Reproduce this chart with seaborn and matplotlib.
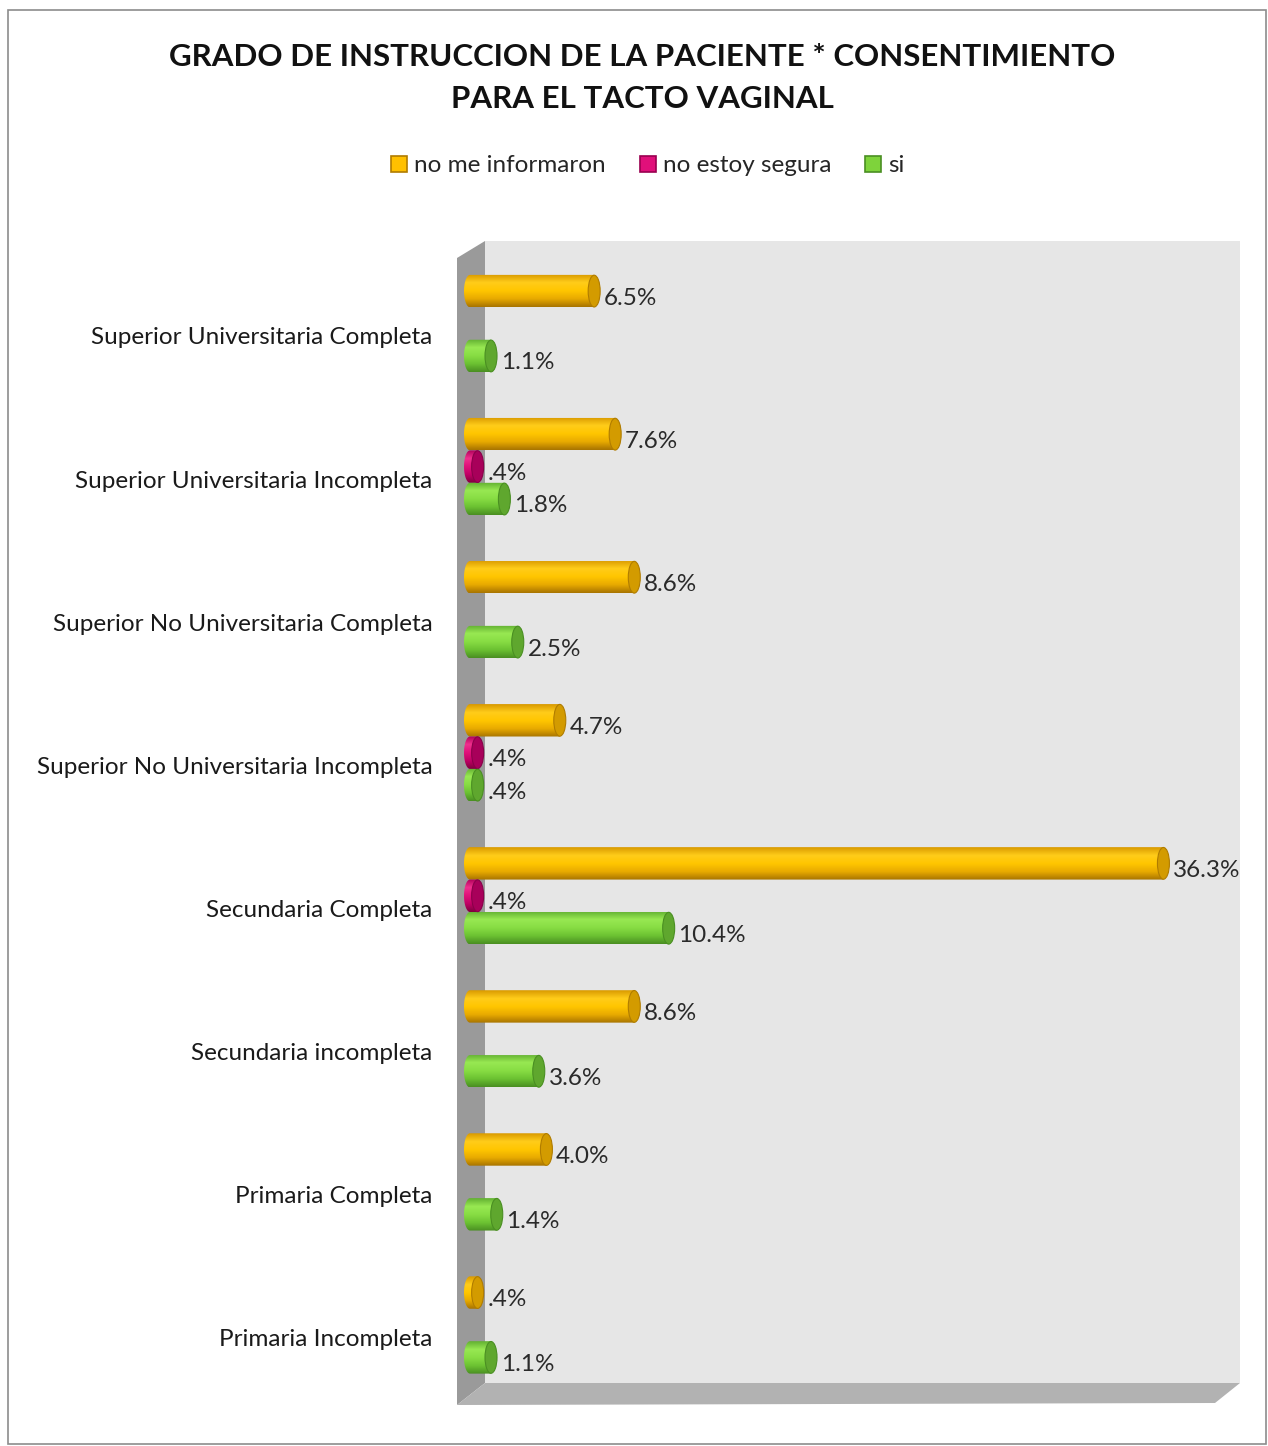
import numpy as np
import pandas as pd
import matplotlib
matplotlib.use("Agg")
import matplotlib.pyplot as plt
import seaborn as sns
from matplotlib.patches import Polygon, Rectangle, Ellipse, Patch
from matplotlib.colors import to_rgba

# ---------------- data ----------------
categorias = [
    "Superior Universitaria Completa",
    "Superior Universitaria Incompleta",
    "Superior No Universitaria Completa",
    "Superior No Universitaria Incompleta",
    "Secundaria Completa",
    "Secundaria incompleta",
    "Primaria Completa",
    "Primaria Incompleta",
]
series = ["no me informaron", "no estoy segura", "si"]
no_me_informaron = [6.5, 7.6, 8.6, 4.7, 36.3, 8.6, 4.0, 0.4]
no_estoy_segura = [None, 0.4, None, 0.4, 0.4, None, None, None]
si = [1.1, 1.8, 2.5, 0.4, 10.4, 3.6, 1.4, 1.1]
titulo = "GRADO DE INSTRUCCION DE LA PACIENTE * CONSENTIMIENTO\nPARA EL TACTO VAGINAL"

rows = []
for s, vals in zip(series, [no_me_informaron, no_estoy_segura, si]):
    for c, v in zip(categorias, vals):
        if v is not None:
            rows.append({"Nivel": c, "Respuesta": s, "Porcentaje": v})
df = pd.DataFrame(rows)

# ---------------- styles ----------------
base_colors = {"no me informaron": "#FFC000", "no estoy segura": "#E0107A", "si": "#7ED33B"}
grad_colors = {
    "no me informaron": ["#D99A00", "#FFCC1A", "#FFC600", "#E8AA00", "#A87400"],
    "no estoy segura": ["#B0005A", "#F0308E", "#E0107A", "#C00065", "#80003F"],
    "si": ["#62B032", "#98E852", "#88DD44", "#6CC232", "#4A8F22"],
}
cap_colors = {"no me informaron": ("#D39B00", "#B07C00"),
              "no estoy segura": ("#A8005A", "#8A004A"),
              "si": ("#5FA72E", "#4A8F22")}
legend_edges = {"no me informaron": "#B07C00", "no estoy segura": "#9A0050", "si": "#4A8F22"}

W, H = 1268, 1446
def fx(px):
    return px / W
def fy(py):
    return 1 - py / H

sns.set_theme(style="white")
plt.rcParams["font.family"] = ["Lato", "DejaVu Sans"]

fig = plt.figure(figsize=(W / 100, H / 100), dpi=100)
fig.patch.set_facecolor("white")

# figure border
fig.patches.append(Rectangle((fx(8), fy(1444)), fx(1266) - fx(8), fy(10) - fy(1444),
                             transform=fig.transFigure, fill=False, edgecolor="#8C8C8C",
                             linewidth=1.2, zorder=-5))
# back wall
fig.patches.append(Polygon([(fx(485), fy(241)), (fx(1240), fy(241)), (fx(1240), fy(1383)), (fx(485), fy(1383))],
                           closed=True, transform=fig.transFigure, facecolor="#E6E6E6",
                           edgecolor="none", zorder=-4))
# left wall
fig.patches.append(Polygon([(fx(457), fy(258)), (fx(485), fy(241)), (fx(485), fy(1383)), (fx(457), fy(1405))],
                           closed=True, transform=fig.transFigure, facecolor="#9A9A9A",
                           edgecolor="none", zorder=-4))
# floor
fig.patches.append(Polygon([(fx(457), fy(1405)), (fx(485), fy(1383)), (fx(1240), fy(1383)), (fx(1215), fy(1403))],
                           closed=True, transform=fig.transFigure, facecolor="#B2B2B2",
                           edgecolor="none", zorder=-4))

top_px, bot_px = 252, 1396.5
left_px, zero_px, right_px = 462, 470, 1215
XMAX = 39
px_per_unit = (right_px - zero_px) / XMAX
XMIN = -(zero_px - left_px) / px_per_unit

ax = fig.add_axes([fx(left_px), fy(bot_px), (right_px - left_px) / W, (bot_px - top_px) / H])
ax.patch.set_visible(False)

sns.barplot(data=df, y="Nivel", x="Porcentaje", hue="Respuesta", order=categorias,
            hue_order=series, orient="h", width=0.68, palette=base_colors,
            errorbar=None, linewidth=0, dodge=True, ax=ax, legend=False)

ax.set_xlim(XMIN, XMAX)
ax.set_ylim(7.5, -0.5)

cap_w = 12 / px_per_unit
a = cap_w / 2

def fmt(v):
    s = f"{v:.1f}"
    if s.startswith("0"):
        s = s[1:]
    return s + "%"

theta = np.linspace(np.pi / 2, -np.pi / 2, 40)

for cont, s in zip(ax.containers, series):
    cols = [to_rgba(c) for c in grad_colors[s]]
    stops = np.linspace(0, 1, len(cols))
    t = np.linspace(0, 1, 64)
    grad = np.zeros((64, 1, 4))
    for k in range(4):
        grad[:, 0, k] = np.interp(t, stops, [c[k] for c in cols])
    for p in cont.patches:
        w = p.get_width()
        if not np.isfinite(w) or w <= 0:
            continue
        x0, y0, h = p.get_x(), p.get_y(), p.get_height()
        p.set_visible(False)
        yc = y0 + h / 2
        b = h / 2
        # body outline: rectangle with a rounded (half-ellipse) left end
        left_arc = [(x0 - a * np.cos(th), yc + b * np.sin(th)) for th in theta]
        body = Polygon([(x0 + w, y0), (x0 + w, y0 + h)] + left_arc, closed=True,
                       transform=ax.transData, facecolor="none", edgecolor="none")
        ax.add_patch(body)
        im = ax.imshow(grad, extent=(x0 - a, x0 + w, y0 + h, y0), origin="upper",
                       aspect="auto", interpolation="bilinear", zorder=3)
        im.set_clip_path(body)
        fc, ec = cap_colors[s]
        ax.add_patch(Ellipse((x0 + w, yc), cap_w, h * 0.98, facecolor=fc,
                             edgecolor=ec, linewidth=0.8, zorder=4, clip_on=False))
        ax.annotate(fmt(w), xy=(x0 + w, yc), xytext=(7, -5), textcoords="offset points",
                    ha="left", va="center", fontsize=17.5, color="#2A2A2A", zorder=5,
                    annotation_clip=False)

ax.set_xlim(XMIN, XMAX)
ax.set_ylim(7.5, -0.5)
ax.set_xticks([])
ax.set_yticks(np.arange(len(categorias)) + 0.087)
ax.set_yticklabels(categorias, fontsize=17.5, color="#1A1A1A")
ax.tick_params(axis="y", length=0, pad=27 - (zero_px - left_px) * 0.72)
ax.set_xlabel("")
ax.set_ylabel("")
for sp in ax.spines.values():
    sp.set_visible(False)

fig.text(fx(642), fy(78), titulo, ha="center", va="center", fontsize=22.5,
         fontweight="bold", color="#111111", linespacing=1.6)

handles = [Patch(facecolor=base_colors[s], edgecolor=legend_edges[s], linewidth=1.2) for s in series]
fig.legend(handles, series, loc="center", bbox_to_anchor=(fx(648), fy(166)), ncol=3,
           frameon=False, fontsize=17.5, handlelength=0.65, handleheight=0.65,
           handletextpad=0.3, columnspacing=1.4)

fig.savefig("out.png", dpi=100)
